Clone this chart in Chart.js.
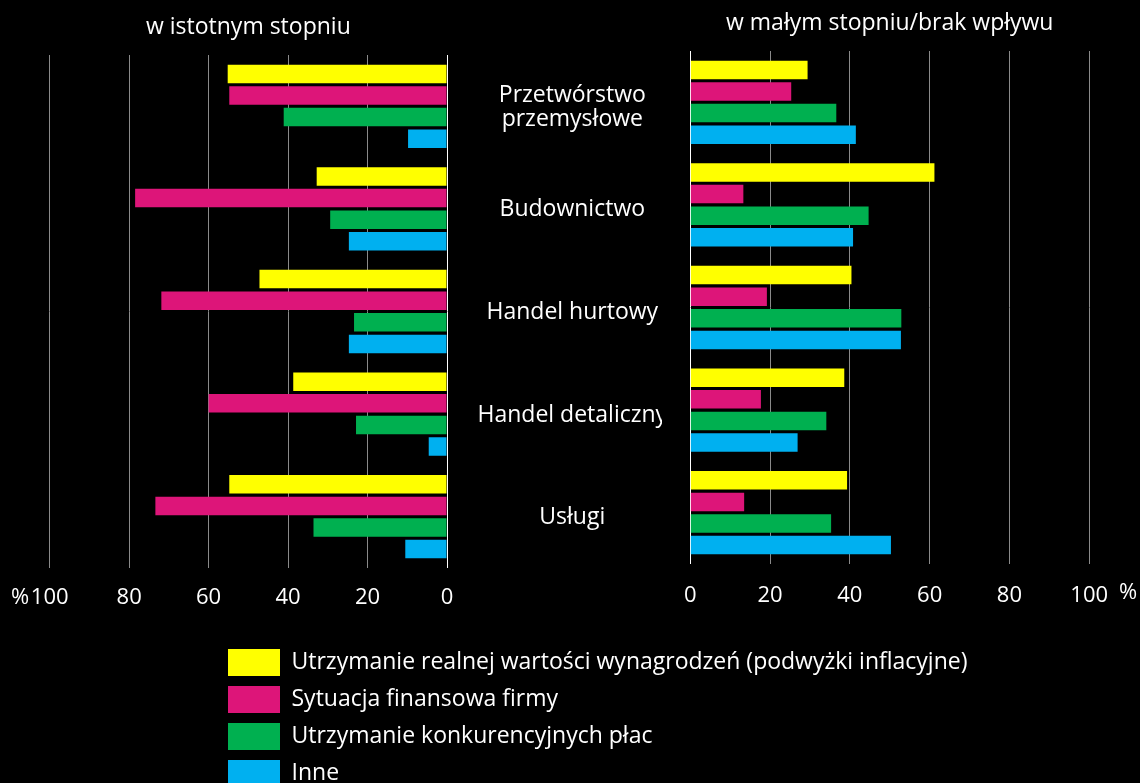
<!DOCTYPE html>
<html>
<head>
<meta charset="utf-8">
<script src="https://cdn.jsdelivr.net/npm/chart.js@4/dist/chart.umd.min.js"></script>
<style>
  html, body { margin:0; padding:0; background:#000; }
  body { width:1140px; height:783px; overflow:hidden; position:relative; }
  .box { position:absolute; }
</style>
</head>
<body>
<div class="box" style="left:0;top:0;width:500px;height:640px"><canvas id="cL"></canvas></div>
<div class="box" style="left:460px;top:0;width:680px;height:640px"><canvas id="cR"></canvas></div>
<div class="box" style="left:218px;top:639px;width:1600px;height:166px"><canvas id="cG"></canvas></div>
<script>
// ---- data ----
const categories = [['Przetwórstwo','przemysłowe'], 'Budownictwo', 'Handel hurtowy', 'Handel detaliczny', 'Usługi'];
const seriesNames = [
  'Utrzymanie realnej wartości wynagrodzeń (podwyżki inflacyjne)',
  'Sytuacja finansowa firmy',
  'Utrzymanie konkurencyjnych płac',
  'Inne'
];
const seriesColors = ['#FFFF00', '#DD1579', '#00B050', '#00B0F0'];
const xTicks = [0, 20, 40, 60, 80, 100];
const leftTitle = 'w istotnym stopniu';
const rightTitle = 'w małym stopniu/brak wpływu';
// w istotnym stopniu
const leftWages    = [55.2, 32.8, 47.2, 38.7, 54.8];
const leftFinance  = [54.8, 78.5, 71.9, 60.0, 73.4];
const leftCompet   = [41.1, 29.4, 23.4, 22.9, 33.6];
const leftOther    = [9.8, 24.7, 24.7, 4.6, 10.5];
// w małym stopniu / brak wpływu
const rightWages   = [29.4, 61.2, 40.4, 38.6, 39.3];
const rightFinance = [25.3, 13.3, 19.2, 17.7, 13.5];
const rightCompet  = [36.6, 44.7, 52.9, 34.1, 35.3];
const rightOther   = [41.5, 40.8, 52.8, 26.9, 50.3];

const FONT = "'Open Sans', 'Noto Sans', sans-serif";
const FS = 23;      // titles, categories, legend
const TFS = 22;     // tick labels
Chart.defaults.font.family = FONT;
Chart.defaults.font.size = FS;
Chart.defaults.color = '#ffffff';

function makeDatasets(arrs) {
  return arrs.map((d, i) => ({
    label: seriesNames[i],
    data: d,
    backgroundColor: seriesColors[i],
    borderWidth: 0,
    categoryPercentage: 0.842,
    barPercentage: 0.856
  }));
}

const pctPlugin = {
  id: 'pct',
  afterDraw(chart, args, opts) {
    const xs = chart.scales.x;
    const ctx = chart.ctx;
    ctx.save();
    ctx.font = TFS + 'px ' + FONT;
    ctx.fillStyle = '#ffffff';
    ctx.textAlign = 'center';
    ctx.textBaseline = 'middle';
    ctx.fillText('%', xs.getPixelForValue(100) + opts.dx, xs.top + opts.dy);
    ctx.restore();
  }
};

// clip category labels of the right chart at a fixed right edge (as in the original)
const clipLabelsPlugin = {
  id: 'clipLabels',
  afterLayout(chart, args, opts) {
    const s = chart.scales.y;
    if (!s || s._clipPatched) return;
    const orig = s.drawLabels;
    s.drawLabels = function (ca) {
      const ctx = this.ctx;
      ctx.save();
      ctx.beginPath();
      ctx.rect(0, 0, opts.right, chart.height);
      ctx.clip();
      orig.call(this, ca);
      ctx.restore();
    };
    s._clipPatched = true;
  }
};

function gridColor(c) { return c.tick && c.tick.value === 0 ? '#ffffff' : '#8a8a8a'; }

function xScale(reverse, pad) {
  return {
    type: 'linear', min: 0, max: 100, reverse: reverse,
    afterBuildTicks: s => { s.ticks = xTicks.map(v => ({ value: v })); },
    ticks: { color: '#fff', padding: pad, font: { size: TFS } },
    grid: { color: gridColor, lineWidth: 1, drawTicks: false },
    border: { display: false }
  };
}

// measure widest category line so labels are centred at a fixed x
const mctx = document.createElement('canvas').getContext('2d');
mctx.font = FS + 'px ' + FONT;
let widest = 0;
categories.forEach(c => [].concat(c).forEach(t => { widest = Math.max(widest, mctx.measureText(t).width); }));
const yAxisWidth = 230.3;            // right chart: plot starts at x=690.3
const labelCenter = 572.3 - 460;     // centre of category labels inside the right canvas
const yPad = Math.max(0, yAxisWidth - labelCenter - widest / 2);

// left chart
new Chart(document.getElementById('cL'), {
  type: 'bar',
  data: { labels: categories, datasets: makeDatasets([leftWages, leftFinance, leftCompet, leftOther]) },
  plugins: [pctPlugin],
  options: {
    indexAxis: 'y', responsive: true, maintainAspectRatio: false, animation: false,
    layout: { padding: { left: 49.7, right: 53, top: 0, bottom: 12 } },
    scales: {
      x: xScale(true, 16.8),
      y: { display: false }
    },
    plugins: {
      legend: { display: false }, tooltip: { enabled: false },
      title: { display: true, text: leftTitle, fullSize: false, color: '#fff',
               font: { size: FS, weight: 'normal' }, padding: { top: 13.7, bottom: 13.7 } },
      pct: { dx: -29.7, dy: 30 }
    }
  }
});

// right chart
new Chart(document.getElementById('cR'), {
  type: 'bar',
  data: { labels: categories, datasets: makeDatasets([rightWages, rightFinance, rightCompet, rightOther]) },
  plugins: [pctPlugin, clipLabelsPlugin],
  options: {
    indexAxis: 'y', responsive: true, maintainAspectRatio: false, animation: false,
    layout: { padding: { left: 0, right: 50.8, top: 0, bottom: 13 } },
    scales: {
      x: xScale(false, 18.3),
      y: {
        grid: { display: false, drawTicks: false },
        border: { display: false },
        afterFit: s => { s.width = yAxisWidth; },
        ticks: {
          color: '#fff', crossAlign: 'center', font: { size: FS, lineHeight: 1.02 },
          labelOffset: 5,
          padding: yPad
        }
      }
    },
    plugins: {
      legend: { display: false }, tooltip: { enabled: false },
      title: { display: true, text: rightTitle, fullSize: false, color: '#fff',
               font: { size: FS, weight: 'normal' }, padding: { top: 9.2, bottom: 14.2 } },
      pct: { dx: 38.8, dy: 28.5 },
      clipLabels: { right: 202 }
    }
  }
});

// legend chart
new Chart(document.getElementById('cG'), {
  type: 'bar',
  data: { labels: [], datasets: seriesNames.map((n, i) => ({ label: n, data: [], backgroundColor: seriesColors[i], borderWidth: 0 })) },
  options: {
    responsive: true, maintainAspectRatio: false, animation: false,
    layout: { padding: 0 },
    scales: { x: { display: false }, y: { display: false } },
    plugins: {
      tooltip: { enabled: false },
      legend: {
        position: 'left', align: 'start',
        labels: { boxWidth: 52, boxHeight: 27, padding: 10, color: '#fff', font: { size: FS } }
      }
    }
  }
});
</script>
</body>
</html>
